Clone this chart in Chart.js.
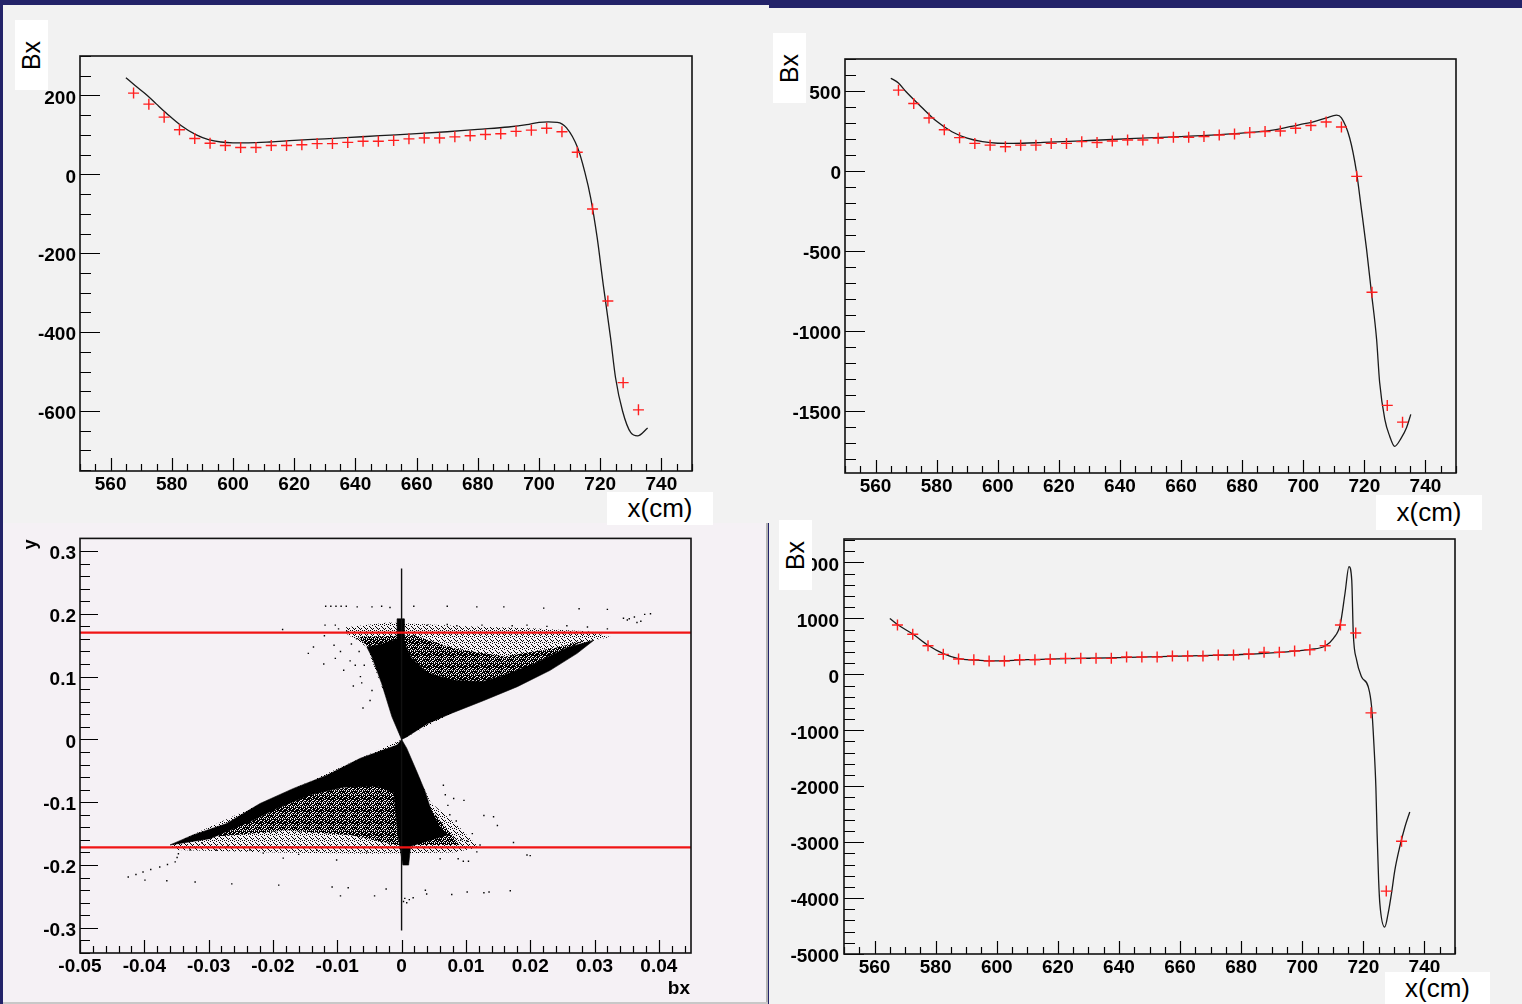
<!DOCTYPE html>
<html>
<head>
<meta charset="utf-8">
<script src="https://cdn.jsdelivr.net/npm/chart.js@4.4.1/dist/chart.umd.min.js"></script>
<style>
html,body{margin:0;padding:0;}
body{width:1522px;height:1004px;background:#232369;position:relative;overflow:hidden;font-family:"Liberation Sans",Arial,sans-serif;}
.blk{position:absolute;}
canvas{position:absolute;}
.box{position:absolute;background:#fff;z-index:5;display:flex;align-items:center;justify-content:center;color:#000;}
.rot{transform:rotate(-90deg);white-space:nowrap;}
.lbl{position:absolute;z-index:5;color:#000;white-space:nowrap;}
</style>
</head>
<body>
<div class="blk" style="left:3px;top:5px;width:766px;height:518px;background:#f2f2f2"></div>
<div class="blk" style="left:769px;top:8px;width:753px;height:996px;background:#f2f2f2"></div>
<div class="blk" style="left:3px;top:523px;width:763px;height:479px;background:#f5f1f5"></div>
<div class="blk" style="left:766px;top:523px;width:2px;height:481px;background:#b4b4b4"></div>
<div class="blk" style="left:3px;top:1002px;width:765px;height:2px;background:#c8c8c8"></div>

<canvas id="cTL" width="770" height="523" style="left:0;top:0"></canvas>
<canvas id="cTR" width="753" height="522" style="left:769px;top:8px"></canvas>
<canvas id="cBL" width="766" height="479" style="left:0;top:523px"></canvas>
<canvas id="cBR" width="753" height="489" style="left:769px;top:515px"></canvas>

<div class="box" style="left:15px;top:20px;width:33px;height:70px;font-size:25px"><span class="rot">Bx</span></div>
<div class="box" style="left:773px;top:33px;width:33px;height:70px;font-size:25px"><span class="rot">Bx</span></div>
<div class="box" style="left:779px;top:520px;width:33px;height:70px;font-size:25px"><span class="rot">Bx</span></div>
<div class="box" style="left:607px;top:492px;width:106px;height:33px;font-size:26px">x(cm)</div>
<div class="box" style="left:1376px;top:495px;width:106px;height:35px;font-size:26px">x(cm)</div>
<div class="box" style="left:1385px;top:972px;width:105px;height:32px;font-size:26px">x(cm)</div>
<div class="lbl" style="left:20px;top:534px;width:20px;height:20px;font-size:18px;font-weight:bold;display:flex;align-items:center;justify-content:center"><span class="rot">y</span></div>
<div class="lbl" style="left:640px;top:977px;width:50px;text-align:right;font-size:19px;font-weight:bold">bx</div>

<script>
// ---------- data: top-left panel ----------
const crossX = [567.5,572.5,577.5,582.5,587.5,592.5,597.5,602.5,607.5,612.5,617.5,622.5,627.5,632.5,637.5,642.5,647.5,652.5,657.5,662.5,667.5,672.5,677.5,682.5,687.5,692.5,697.5,702.5,707.5,712.5,717.5,722.5,727.5,732.5];
const tlCrossY = [206,178,145,113,91,79,73,68,68,73,73,75,78,78,81,84,84,86,90,92,92,95,98,101,103,109,112,117,108,56,-88,-321,-528,-597];
const tlCurveX = [565,568,572,575,578.5,583,588,592,596,600,605,612,620,630,637,648,660,670,680,690,696,700,703,706,709,712.6,715,716.9,719,721,723.4,725,727.3,730,732.2,735.5];
const tlCurveY = [245,225,200,178,153,124,100,88,82,80,80,82,86,90,93,98,103,108,114,120,126,132,133,132,118,68,5,-60,-160,-280,-415,-515,-600,-655,-663,-643];
const tlXTicks = [560,580,600,620,640,660,680,700,720,740];
const tlYTicks = [-600,-400,-200,0,200];

// ---------- data: top-right panel ----------
const trCrossY = [505,422,331,257,208,172,161,151,161,161,172,172,183,178,187,193,193,204,210,210,215,225,231,240,246,250,267,284,306,275,-34,-759,-1467,-1572];
const trCurveX = [565,567.5,570,575,580,585,590,595,600,605,615,630,645,660,675,690,698.9,703,707.6,710.9,712.5,715.2,717.4,719,720.7,722.3,724,725,726.7,728.3,729.9,732.1,733.8,735.2];
const trCurveY = [580,550,495,400,310,245,205,183,173,172,178,190,203,215,230,255,290,305,332,349,332,206,-3,-234,-486,-758,-1052,-1322,-1555,-1660,-1723,-1670,-1607,-1523];
const trXTicks = [560,580,600,620,640,660,680,700,720,740];
const trYTicks = [-1500,-1000,-500,0,500];

// ---------- data: bottom-right panel ----------
const brCrossY = [883,716,512,358,274,261,238,238,261,261,269,286,286,286,286,310,310,310,328,328,328,346,346,363,394,394,417,440,512,883,739,-688,-3875,-2985];
const brCurveX = [565,567.5,572.5,577.5,582.5,587.5,592.5,598,603,610,620,630,640,650,660,670,680,690,699.3,702.6,707.5,710.2,712.4,714,715.3,716.2,716.7,717.8,719.4,721.6,722.7,723.5,724.1,724.5,725,725.4,727,728.1,729.2,730.3,731.9,733.6,735.2];
const brCurveY = [1000,890,720,520,370,280,255,240,245,262,275,288,300,312,325,338,355,385,425,445,507,645,883,1450,1927,1688,734,256,-43,-222,-580,-1296,-2013,-2847,-3683,-4100,-4519,-4279,-3921,-3504,-3087,-2729,-2460];
const brXTicks = [560,580,600,620,640,660,680,700,720,740];
const brYTicks = [-5000,-4000,-3000,-2000,-1000,0,1000,2000];

// ---------- data: bottom-left scatter (bx, y) ----------
const blXTicks = [-0.05,-0.04,-0.03,-0.02,-0.01,0,0.01,0.02,0.03,0.04];
const blYTicks = [-0.3,-0.2,-0.1,0,0.1,0.2,0.3];
const cutY = [0.17, -0.172];
const vertLine = [[0,0.272],[0,-0.304]];
// solid (fully black) regions
const upperCore = [[0,0],[-0.0015,0.036],[-0.0031,0.089],[-0.0046,0.131],[-0.0054,0.147],[-0.003,0.152],[-0.0008,0.16],[0.0006,0.15],[0.0015,0.13],[0.004,0.106],[0.008,0.094],[0.0125,0.092],[0.0154,0.1],[0.0205,0.12],[0.0257,0.146],[0.0299,0.158],[0.0273,0.137],[0.0231,0.11],[0.018,0.084],[0.0128,0.062],[0.0076,0.041],[0.004,0.025],[0.0008,0.004],[0,0]];
const upperNeck = [[-0.0006,0.14],[-0.0007,0.192],[0.0004,0.192],[0.0004,0.14],[-0.0006,0.14]];
const lowerCore = [[0,0],[-0.0007,-0.009],[-0.0064,-0.03],[-0.0116,-0.057],[-0.0168,-0.078],[-0.022,-0.102],[-0.0272,-0.134],[-0.0324,-0.152],[-0.036,-0.168],[-0.0298,-0.158],[-0.0236,-0.131],[-0.0194,-0.11],[-0.0142,-0.088],[-0.009,-0.076],[-0.0038,-0.074],[-0.0012,-0.085],[-0.0006,-0.15],[-0.0003,-0.17],[0.0002,-0.2],[0.0011,-0.2],[0.0014,-0.17],[0.0071,-0.152],[0.0058,-0.137],[0.0045,-0.11],[0.0037,-0.084],[0.0024,-0.052],[0.0008,-0.014],[0,0]];
// speckled regions (sparse / dense)
const upperSpeckle = [[0,0],[-0.0054,0.147],[-0.0085,0.168],[-0.009,0.178],[-0.002,0.186],[0.01,0.18],[0.02,0.177],[0.029,0.172],[0.0325,0.163],[0.0299,0.158],[0,0]];
const upperDense = [[0,0.02],[-0.0045,0.14],[-0.0068,0.163],[0.002,0.166],[0.008,0.145],[0.016,0.132],[0.024,0.146],[0.0285,0.158],[0.0205,0.118],[0.0102,0.08],[0,0.02]];
const lowerSpeckle = [[0,0],[-0.036,-0.168],[-0.035,-0.176],[-0.02,-0.18],[-0.005,-0.182],[0.008,-0.18],[0.012,-0.172],[0.009,-0.14],[0.0045,-0.1],[0,0]];
const lowerDense = [[-0.002,-0.065],[-0.014,-0.086],[-0.022,-0.118],[-0.029,-0.155],[-0.018,-0.145],[-0.008,-0.152],[-0.001,-0.168],[0.009,-0.168],[0.0045,-0.11],[-0.002,-0.065]];
const sparsePts = [
 [-0.0118,0.212],[-0.011,0.212],[-0.0102,0.212],[-0.0094,0.212],[-0.0086,0.212],[-0.0069,0.211],[-0.0046,0.211],[-0.0031,0.212],[-0.0018,0.21],[0.0019,0.212],[0.0071,0.212],[0.0117,0.211],[0.0159,0.211],[0.0221,0.209],[0.0276,0.208],[0.032,0.207],
 [0.0351,0.19],[0.0354,0.192],[0.0366,0.186],[0.0372,0.188],[0.0378,0.199],[0.0387,0.2],[0.0362,0.195],[0.0345,0.193],
 [-0.0119,0.182],[-0.0103,0.182],[0.004,0.182],[0.0071,0.183],[0.0086,0.181],[0.0125,0.182],[0.0172,0.181],[0.0195,0.182],[0.0226,0.18],[0.0257,0.181],[0.0289,0.179],[0.032,0.176],[-0.0185,0.175],
 [-0.0145,0.137],[-0.0121,0.12],[-0.0103,0.129],[-0.009,0.11],[-0.0064,0.1],[-0.0049,0.062],[-0.0046,0.078],[-0.0137,0.147],[-0.0075,0.085],[-0.006,0.05],[-0.0105,0.15],[-0.012,0.165],[-0.008,0.125],[-0.0095,0.14],
 [-0.007,0.16],[-0.0078,0.152],[-0.0066,0.14],[-0.0072,0.118],[-0.0058,0.118],[-0.0062,0.09],[-0.0085,0.172],[-0.0098,0.176],
 [-0.0425,-0.219],[-0.0413,-0.215],[-0.0402,-0.211],[-0.039,-0.207],[-0.0376,-0.203],[-0.0364,-0.199],[-0.0352,-0.195],[-0.0347,-0.182],[-0.0349,-0.188],
 [-0.0399,-0.224],[-0.0365,-0.225],[-0.0321,-0.227],[-0.0264,-0.23],[-0.0191,-0.232],[-0.0108,-0.235],[-0.0095,-0.249],[-0.0083,-0.236],[-0.0042,-0.249],[-0.0024,-0.238],[0.0037,-0.24],[0.0039,-0.246],[0.0078,-0.247],[0.0102,-0.243],[0.0128,-0.244],[0.0136,-0.243],[0.0169,-0.241],
 [0.0143,-0.123],[0.0149,-0.137],[0.0174,-0.164],[0.02,-0.185],[0.0195,-0.184],[0.0117,-0.179],[0.0104,-0.194],[0.0096,-0.194],[0.0128,-0.121],[0.0097,-0.097],[0.0081,-0.094],[0.0065,-0.073],[0.011,-0.15],[0.0088,-0.19],[0.006,-0.19],[0.0075,-0.12],[0.0092,-0.16],
 [0.0068,-0.088],[0.0072,-0.105],[0.0085,-0.13],[0.0102,-0.162],[0.0122,-0.168],
 [-0.0329,-0.176],[-0.0288,-0.176],[-0.0236,-0.176],[-0.0184,-0.189],[-0.0132,-0.176],[-0.0101,-0.192],[-0.0054,-0.179],[-0.016,-0.183],[-0.0215,-0.181],[-0.027,-0.17],[-0.031,-0.165],
 [0.0005,-0.253],[0.0012,-0.255],[0.0018,-0.252],[0.0008,-0.26],[0.0003,-0.258]
];

// ---------- helpers ----------
const FONT = '"Liberation Sans", Arial, sans-serif';
const xy = (xs, ys) => xs.map((x, i) => ({x: x, y: ys[i]}));
const pairs = arr => arr.map(p => ({x: p[0], y: p[1]}));
const fmt = v => (Math.abs(v) < 1e-12 ? '0' : String(+(+v).toFixed(3)));

function stepValues(min, max, step) {
  const out = [];
  const a = Math.ceil(min / step - 1e-9), b = Math.floor(max / step + 1e-9);
  for (let i = a; i <= b; i++) out.push(+(i * step).toFixed(6));
  return out;
}

// fixed dot textures used to render the speckled scatter density
function dotPattern(size, dots) {
  const c = document.createElement('canvas');
  c.width = size; c.height = size;
  const g = c.getContext('2d');
  g.fillStyle = '#000';
  dots.forEach(d => g.fillRect(d[0], d[1], 1, 1));
  return c.getContext('2d').createPattern(c, 'repeat');
}
const lightDots = dotPattern(6, [[0,0],[3,1],[5,3],[1,3],[4,5],[2,5],[4,2],[0,4]]);
const denseDots = dotPattern(4, [[0,0],[1,0],[2,1],[3,1],[0,2],[1,3],[2,2],[3,3],[3,0],[1,2]]);

const rootFrame = {
  id: 'rootFrame',
  beforeDatasetsDraw(chart, args, o) {
    const {ctx, chartArea: a, scales: {x, y}} = chart;
    ctx.save();
    ctx.strokeStyle = '#000';
    ctx.lineWidth = 1.2;
    ctx.beginPath();
    stepValues(x.min, x.max, o.xMinor).forEach(v => {
      const major = o.xMajor.some(m => Math.abs(m - v) < o.xMinor / 10);
      const px = Math.round(x.getPixelForValue(v)) + 0.5;
      ctx.moveTo(px, a.bottom);
      ctx.lineTo(px, a.bottom - (major ? o.xMajLen : o.xMinLen));
    });
    stepValues(y.min, y.max, o.yMinor).forEach(v => {
      const major = o.yMajor.some(m => Math.abs(m - v) < o.yMinor / 10);
      const py = Math.round(y.getPixelForValue(v)) + 0.5;
      ctx.moveTo(a.left, py);
      ctx.lineTo(a.left + (major ? o.yMajLen : o.yMinLen), py);
    });
    ctx.stroke();
    ctx.restore();
  },
  afterDraw(chart) {
    const {ctx, chartArea: a} = chart;
    ctx.save();
    ctx.strokeStyle = '#111';
    ctx.lineWidth = 1.6;
    ctx.strokeRect(a.left, a.top, a.right - a.left, a.bottom - a.top);
    ctx.restore();
  }
};

function rootChart(id, o) {
  const tickFont = {family: FONT, size: 19, weight: 'bold'};
  return new Chart(document.getElementById(id), {
    type: 'scatter',
    data: {datasets: o.datasets},
    options: {
      responsive: false, animation: false, devicePixelRatio: 1,
      layout: {padding: o.pad},
      plugins: {
        legend: {display: false}, tooltip: {enabled: false},
        rootFrame: {xMajor: o.xTicks, yMajor: o.yTicks, xMinor: o.xMinor, yMinor: o.yMinor,
                    xMajLen: 13, xMinLen: 7, yMajLen: o.yMajLen || 20, yMinLen: o.yMinLen || 11}
      },
      scales: {
        x: {
          type: 'linear', min: o.xMin, max: o.xMax,
          grid: {display: false, drawTicks: false}, border: {display: false},
          afterBuildTicks: s => { s.ticks = o.xTicks.map(v => ({value: v})); },
          afterFit: s => { s.height = 30; },
          ticks: {font: tickFont, color: '#000', padding: 2, maxRotation: 0, autoSkip: false, callback: fmt}
        },
        y: {
          type: 'linear', min: o.yMin, max: o.yMax,
          grid: {display: false, drawTicks: false}, border: {display: false},
          afterBuildTicks: s => { s.ticks = o.yTicks.map(v => ({value: v})); },
          afterFit: s => { s.width = o.yWidth; },
          ticks: {font: tickFont, color: '#000', padding: o.yPad, labelOffset: 3, autoSkip: false, callback: fmt}
        }
      }
    },
    plugins: [rootFrame]
  });
}

function curveDs(data) {
  return {data: data, showLine: true, borderColor: '#1a1a1a', borderWidth: 1.3, pointRadius: 0,
          cubicInterpolationMode: 'monotone', fill: false, order: 2};
}
function crossDs(data) {
  return {data: data, showLine: false, pointStyle: 'cross', pointRadius: 5.5, pointBorderWidth: 1.4,
          borderColor: '#ff1f1f', backgroundColor: '#ff1f1f', order: 1};
}

rootChart('cTL', {
  xMin: 550, xMax: 750, yMin: -752, yMax: 300,
  xTicks: tlXTicks, yTicks: tlYTicks, xMinor: 5, yMinor: 50,
  yWidth: 80, yPad: 4, pad: {left: 0, top: 56, right: 78, bottom: 22},
  datasets: [curveDs(xy(tlCurveX, tlCurveY)), crossDs(xy(crossX, tlCrossY))]
});

rootChart('cTR', {
  xMin: 550, xMax: 750, yMin: -1890, yMax: 700,
  xTicks: trXTicks, yTicks: trYTicks, xMinor: 5, yMinor: 100,
  yWidth: 76, yPad: 4, pad: {left: 0, top: 51, right: 66, bottom: 27},
  datasets: [curveDs(xy(trCurveX, trCurveY)), crossDs(xy(crossX, trCrossY))]
});

rootChart('cBR', {
  xMin: 550, xMax: 750, yMin: -5000, yMax: 2420,
  xTicks: brXTicks, yTicks: brYTicks, xMinor: 5, yMinor: 200,
  yWidth: 75, yPad: 5, pad: {left: 0, top: 24, right: 67, bottom: 20},
  datasets: [curveDs(xy(brCurveX, brCurveY)), crossDs(xy(crossX, brCrossY))]
});

function polyDs(arr, color, order, bw) {
  return {data: pairs(arr), showLine: true, fill: 'shape', backgroundColor: color,
          borderColor: bw ? '#000' : 'rgba(0,0,0,0)', borderWidth: bw || 0, pointRadius: 0, tension: 0, order: order};
}
const blXMin = -0.05, blXMax = 0.045;
rootChart('cBL', {
  xMin: blXMin, xMax: blXMax, yMin: -0.34, yMax: 0.32,
  xTicks: blXTicks, yTicks: blYTicks, xMinor: 0.002, yMinor: 0.02,
  yWidth: 80, yPad: 4, yMajLen: 18, yMinLen: 10, pad: {left: 0, top: 15, right: 75, bottom: 19},
  datasets: [
    polyDs(upperSpeckle, lightDots, 9),
    polyDs(lowerSpeckle, lightDots, 9),
    polyDs(upperDense, denseDots, 8),
    polyDs(lowerDense, denseDots, 8),
    polyDs(upperCore, '#000', 7, 0.6),
    polyDs(lowerCore, '#000', 7, 0.6),
    polyDs(upperNeck, '#000', 7, 0.6),
    {data: pairs(sparsePts), showLine: false, pointStyle: 'rect', pointRadius: 1, borderWidth: 0,
     backgroundColor: '#000', order: 6},
    {data: pairs(vertLine), showLine: true, borderColor: '#111', borderWidth: 1.4, pointRadius: 0, order: 5},
    {data: [{x: blXMin, y: cutY[0]}, {x: blXMax, y: cutY[0]}], showLine: true, borderColor: '#f01414',
     borderWidth: 2.2, pointRadius: 0, order: 1},
    {data: [{x: blXMin, y: cutY[1]}, {x: blXMax, y: cutY[1]}], showLine: true, borderColor: '#f01414',
     borderWidth: 2.2, pointRadius: 0, order: 1}
  ]
});
</script>
</body>
</html>
